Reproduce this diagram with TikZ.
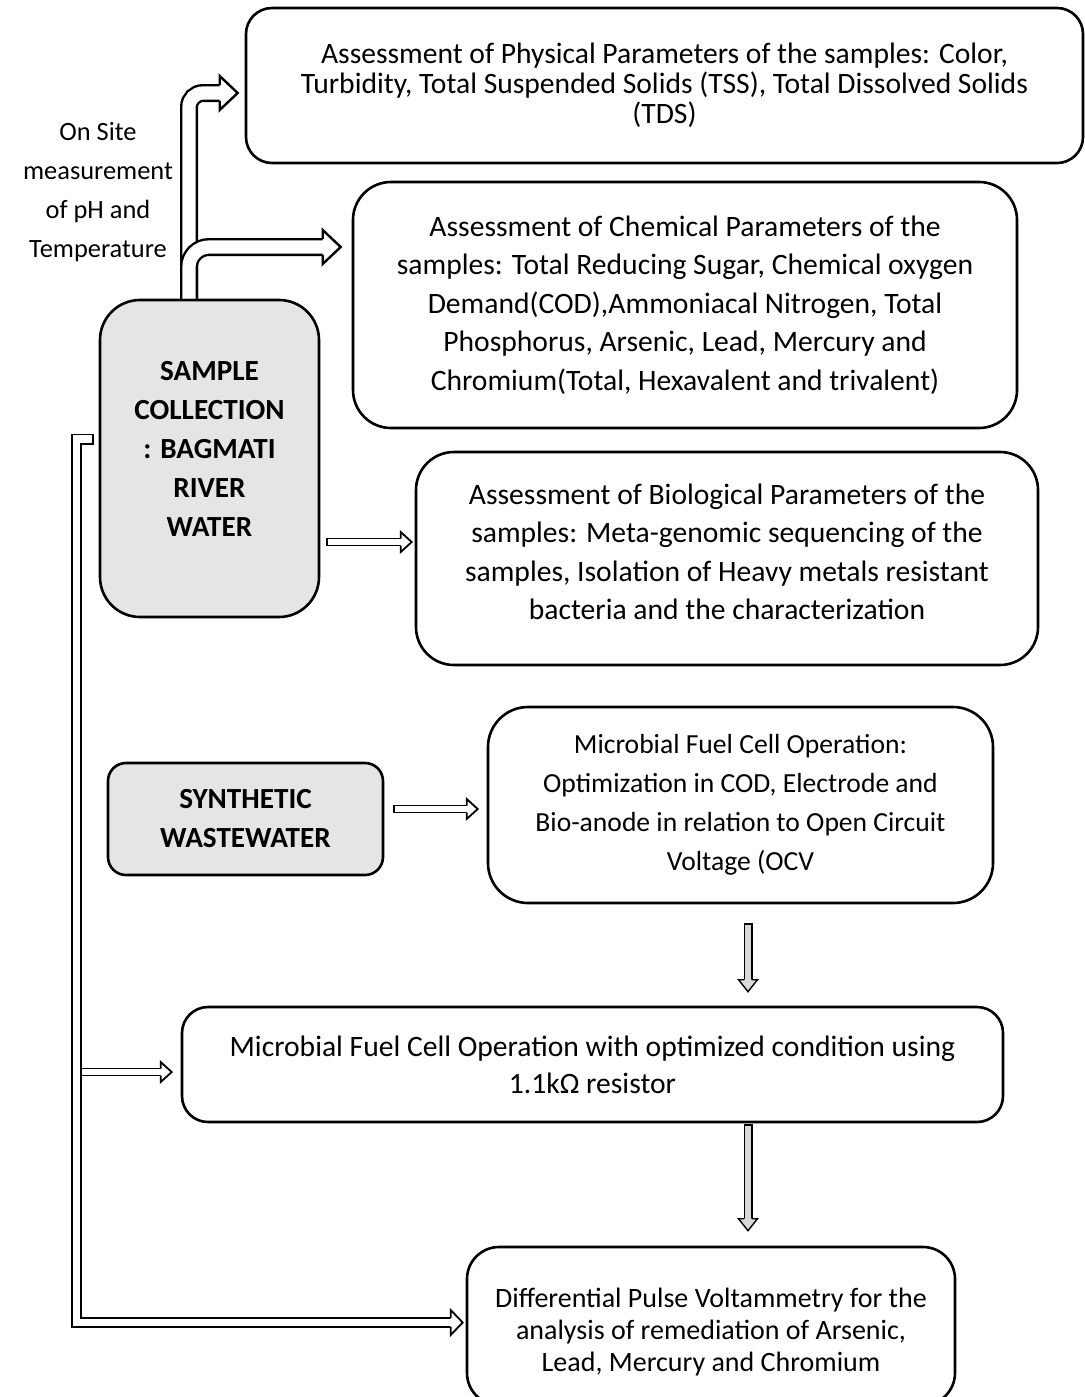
\documentclass[tikz,border=0pt]{standalone}
\usepackage{fontspec}
\setmainfont{Carlito}
\usetikzlibrary{positioning}

\tikzset{
  box/.style={draw, line width=1.3pt, align=center, inner sep=0pt},
  greybox/.style={box, fill=black!10, font=\fontsize{14.6pt}{19.5pt}\selectfont\bfseries},
  bigshaft/.style={line width=1.2pt, double=white, double distance=6.6pt},
  smallshaft/.style={line width=0.9pt, double=white, double distance=2.6pt, line cap=rect},
  loopshaft/.style={line width=0.9pt, double=white, double distance=3.7pt, line cap=rect, line join=miter},
  downshaft/.style={line width=0.7pt, double=black!15, double distance=3.1pt, line cap=rect},
  pics/bighead/.style={code={
    \fill[white] (-9pt,8.5pt) -- (0pt,0pt) -- (-9pt,-8.5pt) -- cycle;
    \draw[line width=1.2pt, line join=miter] (-9pt,3.9pt) -- (-9pt,8.5pt) -- (0pt,0pt) -- (-9pt,-8.5pt) -- (-9pt,-3.9pt);
  }},
  pics/smallhead/.style={code={
    \fill[white] (-5.5pt,5pt) -- (0pt,0pt) -- (-5.5pt,-5pt) -- cycle;
    \draw[line width=0.9pt, line join=miter] (-5.5pt,1.75pt) -- (-5.5pt,5pt) -- (0pt,0pt) -- (-5.5pt,-5pt) -- (-5.5pt,-1.75pt);
  }},
  pics/loophead/.style={code={
    \fill[white] (-6pt,6.25pt) -- (0pt,0pt) -- (-6pt,-6.25pt) -- cycle;
    \draw[line width=0.9pt, line join=miter] (-6pt,2.3pt) -- (-6pt,6.25pt) -- (0pt,0pt) -- (-6pt,-6.25pt) -- (-6pt,-2.3pt);
  }},
  pics/downhead/.style={code={
    \fill[black!15] (-6pt,4.75pt) -- (0pt,0pt) -- (-6pt,-4.75pt) -- cycle;
    \draw[line width=0.7pt, line join=miter] (-6pt,1.9pt) -- (-6pt,4.75pt) -- (0pt,0pt) -- (-6pt,-4.75pt) -- (-6pt,-1.9pt);
  }},
}

\begin{document}
\begin{tikzpicture}[on grid, auto]
  \tikzstyle{every node}=[font=\fontsize{14.8pt}{19.2pt}\selectfont]
  \useasboundingbox (0pt,0pt) rectangle (542pt,-698.5pt);

  % boxes
  \node[greybox, minimum width=109.5pt, minimum height=158.5pt, rounded corners=20pt]
    (samp) at (104.75pt,-229.25pt) {SAMPLE\\COLLECTION\\: BAGMATI\\RIVER\\WATER\\[-10pt]\mbox{}};
  \node[box, minimum width=418.5pt, minimum height=77.5pt, rounded corners=13pt,
    font=\fontsize{14.8pt}{15pt}\selectfont, above right=186.5pt and 227.5pt of samp] (phys)
    {Assessment of Physical Parameters of the samples: Color,\\
     Turbidity, Total Suspended Solids (TSS), Total Dissolved Solids\\(TDS)};
  \node[box, minimum width=332pt, minimum height=123pt, rounded corners=19pt,
    above right=76.75pt and 237.75pt of samp] (chem)
    {Assessment of Chemical Parameters of the\\
     samples: Total Reducing Sugar, Chemical oxygen\\
     Demand(COD),Ammoniacal Nitrogen, Total\\
     Phosphorus, Arsenic, Lead, Mercury and\\
     Chromium(Total, Hexavalent and trivalent)};
  \node[box, minimum width=311pt, minimum height=106.5pt, rounded corners=19pt,
    below right=50pt and 258.75pt of samp] (bio)
    {Assessment of Biological Parameters of the\\
     samples: Meta-genomic sequencing of the\\
     samples, Isolation of Heavy metals resistant\\
     bacteria and the characterization\\[-12.5pt]\mbox{}};
  \node[greybox, minimum width=137.5pt, minimum height=56pt, rounded corners=9pt,
    below right=180.25pt and 18pt of samp] (synth) {SYNTHETIC\\WASTEWATER};
  \node[box, minimum width=252.5pt, minimum height=98pt, rounded corners=20pt,
    font=\fontsize{13.8pt}{19.5pt}\selectfont, above right=7pt and 247.5pt of synth] (mfc)
    {Microbial Fuel Cell Operation:\\
     Optimization in COD, Electrode and\\
     Bio-anode in relation to Open Circuit\\
     Voltage (OCV};
  \node[box, minimum width=410.5pt, minimum height=57.5pt, rounded corners=13pt,
    font=\fontsize{14.8pt}{18.5pt}\selectfont, below left=129.75pt and 74pt of mfc] (opt)
    {Microbial Fuel Cell Operation with optimized condition using\\1.1kΩ resistor};
  \node[box, minimum width=244pt, minimum height=79pt, rounded corners=16pt,
    font=\fontsize{14pt}{16pt}\selectfont, below right=130.75pt and 59.25pt of opt] (dpv)
    {\mbox{}\\Differential Pulse Voltammetry for the\\
     analysis of remediation of Arsenic,\\
     Lead, Mercury and Chromium};
  \node[align=center, font=\fontsize{13.2pt}{19.5pt}\selectfont,
    above left=133.25pt and 55.75pt of samp] (note)
    {On Site\\measurement\\of pH and\\Temperature};

  % end points
  \coordinate (b1) at ([xshift=-10.25pt]samp.north);
  \coordinate (t1) at ([xshift=-3.5pt,yshift=-3.75pt]phys.west);
  \coordinate (t2) at ([xshift=-5.5pt,yshift=29pt]chem.west);
  \coordinate (t3) at ([xshift=-1.5pt,yshift=8.25pt]bio.west);
  \coordinate[xshift=5.2pt] (s3) at (samp.east |- t3);
  \coordinate (t4) at ([xshift=-4.5pt,yshift=-2pt]mfc.west);
  \coordinate[xshift=6.7pt] (s4) at (synth.east |- t4);
  \coordinate (s6) at ([xshift=-5.25pt,yshift=9.75pt]samp.west);
  \coordinate (k6) at ([xshift=-11.25pt,yshift=9.75pt]samp.west);
  \coordinate (t6) at ([xshift=-1.5pt,yshift=1.75pt]dpv.west);
  \coordinate (t5) at ([xshift=-4.5pt,yshift=-3.75pt]opt.west);
  \coordinate (s5) at (k6 |- t5);
  \coordinate (d7) at ([xshift=3.75pt,yshift=-11.75pt]mfc.south);
  \coordinate[yshift=7pt] (t7) at (d7 |- opt.north);
  \coordinate[yshift=-2.75pt] (d8) at (d7 |- opt.south);
  \coordinate[yshift=7.5pt] (t8) at (d7 |- dpv.north);

  % hollow arrows
  \draw[bigshaft, rounded corners=7pt, shorten >=8pt] (b1) |- (t1);
  \draw[bigshaft, rounded corners=10pt, shorten >=8pt] (b1) |- (t2);
  \pic at (t1) {bighead};
  \pic at (t2) {bighead};
  \draw[smallshaft, shorten >=5.5pt] (s3) -- (t3);
  \pic at (t3) {smallhead};
  \draw[smallshaft, shorten >=5.5pt] (s4) -- (t4);
  \pic at (t4) {smallhead};
  \draw[smallshaft, shorten >=5.5pt] (s5) -- (t5);
  \pic at (t5) {smallhead};
  \draw[loopshaft, shorten >=6pt] (s6) -- (k6) |- (t6);
  \pic at (t6) {loophead};
  \draw[downshaft, shorten >=6pt] (d7) -- (t7);
  \pic[rotate=-90] at (t7) {downhead};
  \draw[downshaft, shorten >=6pt] (d8) -- (t8);
  \pic[rotate=-90] at (t8) {downhead};
\end{tikzpicture}
\end{document}
